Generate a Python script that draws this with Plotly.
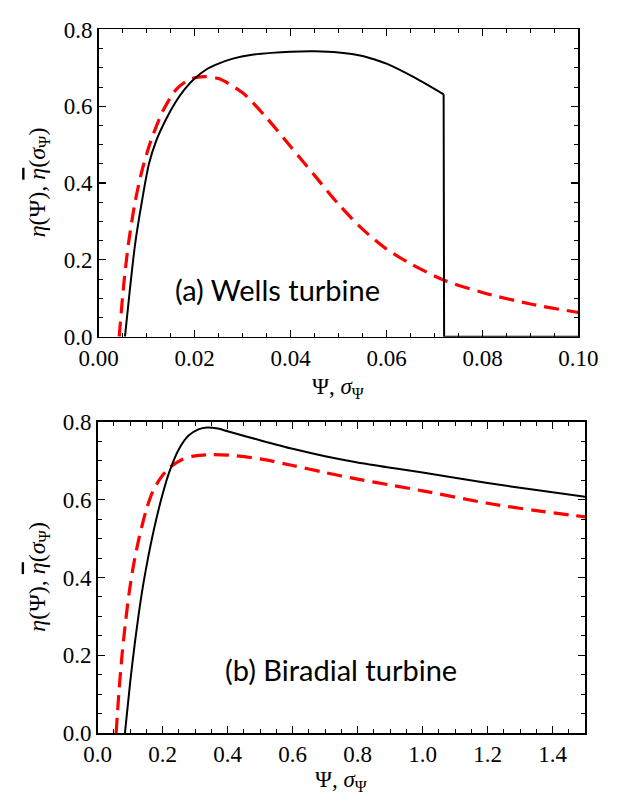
import plotly.graph_objects as go

W, H = 620, 812

# ---------------- data ----------------
# (a) Wells turbine
wells_psi = [0.0055, 0.0065, 0.0076, 0.009, 0.0105, 0.012, 0.014, 0.016, 0.018,
             0.020, 0.0226, 0.025, 0.028, 0.032, 0.036, 0.04, 0.045, 0.05,
             0.055, 0.0577, 0.06, 0.0655, 0.0719]
wells_eta = [0.0, 0.12, 0.24, 0.35, 0.45, 0.51, 0.565, 0.61, 0.645,
             0.672, 0.697, 0.711, 0.724, 0.734, 0.739, 0.742, 0.743, 0.74,
             0.731, 0.721, 0.711, 0.677, 0.631]
wells_cutoff_psi = [0.0719, 0.072, 0.1]
wells_cutoff_eta = [0.631, 0.0, 0.0]

wells_sigma = [0.0043, 0.0052, 0.0062, 0.0076, 0.009, 0.0109, 0.0135, 0.0162,
               0.019, 0.022, 0.025, 0.03, 0.035, 0.04, 0.045, 0.05, 0.055,
               0.06, 0.065, 0.072, 0.08, 0.09, 0.1]
wells_eta_bar = [0.0, 0.13, 0.24, 0.35, 0.43, 0.51, 0.59, 0.644,
                 0.67, 0.677, 0.672, 0.635, 0.57, 0.495, 0.42, 0.345, 0.28,
                 0.228, 0.19, 0.147, 0.115, 0.085, 0.063]

# (b) Biradial turbine
bi_psi = [0.084, 0.1, 0.115, 0.135, 0.155, 0.173, 0.2, 0.222, 0.25, 0.28,
          0.31, 0.337, 0.37, 0.4, 0.5, 0.6, 0.7, 0.8, 0.913, 1.0, 1.2, 1.35, 1.5]
bi_eta = [0.0, 0.13, 0.235, 0.355, 0.45, 0.523, 0.615, 0.675, 0.73, 0.765,
          0.781, 0.786, 0.783, 0.776, 0.753, 0.731, 0.712, 0.696, 0.681,
          0.67, 0.643, 0.625, 0.608]

bi_sigma = [0.057, 0.065, 0.075, 0.085, 0.098, 0.11, 0.127, 0.15, 0.17, 0.193,
            0.22, 0.259, 0.3, 0.35, 0.4, 0.5, 0.6, 0.7, 0.8, 0.913, 1.0, 1.2,
            1.35, 1.5]
bi_eta_bar = [0.0, 0.1, 0.2, 0.28, 0.367, 0.43, 0.5, 0.575, 0.622, 0.655,
              0.682, 0.703, 0.713, 0.716, 0.715, 0.705, 0.688, 0.67, 0.653,
              0.636, 0.623, 0.591, 0.572, 0.556]

top_xticks = [0.0, 0.02, 0.04, 0.06, 0.08, 0.10]
bot_xticks = [0.0, 0.2, 0.4, 0.6, 0.8, 1.0, 1.2, 1.4]
yticks = [0.0, 0.2, 0.4, 0.6, 0.8]

label_a = "(a) Wells turbine"
label_b = "(b) Biradial turbine"
xtitle = "Ψ, <i>σ</i><sub>Ψ</sub>"
ytitle = ("<i>η</i>(Ψ), <span style='text-decoration:overline'><i>η</i></span>"
          "(<i>σ</i><sub>Ψ</sub>)")

# ---------------- layout helpers ----------------
def px(p):
    return p / W

def py(p):
    return 1 - p / H

SERIF = "Liberation Serif, DejaVu Serif, serif"
BLACK = "#000000"
RED = "#ff0000"

fig = go.Figure()

solid = dict(color=BLACK, width=2)
dashed = dict(color=RED, width=3.2, dash="15px,8px")

fig.add_trace(go.Scatter(x=wells_sigma, y=wells_eta_bar, mode="lines",
                         line=dict(**dashed, shape="spline", smoothing=0.8),
                         xaxis="x", yaxis="y", showlegend=False, hoverinfo="skip"))
fig.add_trace(go.Scatter(x=wells_psi, y=wells_eta, mode="lines",
                         line=dict(**solid, shape="spline", smoothing=0.8),
                         xaxis="x", yaxis="y", showlegend=False, hoverinfo="skip"))
fig.add_trace(go.Scatter(x=wells_cutoff_psi, y=wells_cutoff_eta, mode="lines",
                         line=solid, xaxis="x", yaxis="y", showlegend=False,
                         hoverinfo="skip"))

fig.add_trace(go.Scatter(x=bi_sigma, y=bi_eta_bar, mode="lines",
                         line=dict(**dashed, shape="spline", smoothing=0.8),
                         xaxis="x2", yaxis="y2", showlegend=False, hoverinfo="skip"))
fig.add_trace(go.Scatter(x=bi_psi, y=bi_eta, mode="lines",
                         line=dict(**solid, shape="spline", smoothing=0.8),
                         xaxis="x2", yaxis="y2", showlegend=False, hoverinfo="skip"))

axis_common = dict(
    showline=True, linecolor=BLACK, linewidth=1.5, mirror="ticks",
    ticks="inside", ticklen=7, tickwidth=1.2, tickcolor=BLACK,
    showgrid=False, zeroline=False,
    tickfont=dict(family=SERIF, size=23, color=BLACK),
)

fig.update_layout(
    width=W, height=H,
    margin=dict(l=0, r=0, t=0, b=0),
    paper_bgcolor="white", plot_bgcolor="white",
    xaxis=dict(**axis_common, domain=[px(84), px(597)], anchor="y",
               range=[0, 0.1], tickvals=top_xticks, tickformat=".2f",
               minor=dict(ticks="inside", ticklen=4, dtick=0.005,
                          tickcolor=BLACK, tickwidth=1)),
    yaxis=dict(**axis_common, domain=[py(335), py(18)], anchor="x",
               range=[0, 0.8], tickvals=yticks, tickformat=".1f",
               minor=dict(ticks="inside", ticklen=4, dtick=0.05,
                          tickcolor=BLACK, tickwidth=1)),
    xaxis2=dict(**axis_common, domain=[px(83), px(604)], anchor="y2",
                range=[0, 1.5], tickvals=bot_xticks, tickformat=".1f",
                minor=dict(ticks="inside", ticklen=4, dtick=0.05,
                           tickcolor=BLACK, tickwidth=1)),
    yaxis2=dict(**axis_common, domain=[py(744), py(423)], anchor="x2",
                range=[0, 0.8], tickvals=yticks, tickformat=".1f",
                minor=dict(ticks="inside", ticklen=4, dtick=0.05,
                           tickcolor=BLACK, tickwidth=1)),
)

xt_font = dict(family=SERIF, size=23, color=BLACK)
yt_font = dict(family=SERIF, size=24, color=BLACK)
txt_font = dict(family="Lato", size=29, color=BLACK)
fig.add_annotation(text=xtitle, x=px(340), y=py(388), xref="paper", yref="paper",
                   showarrow=False, font=xt_font, xanchor="center", yanchor="middle")
fig.add_annotation(text=xtitle, x=px(343), y=py(793), xref="paper", yref="paper",
                   showarrow=False, font=xt_font, xanchor="center", yanchor="middle")
fig.add_annotation(text=ytitle, x=px(20), y=py(176), xref="paper", yref="paper",
                   showarrow=False, font=yt_font, textangle=-90,
                   xanchor="center", yanchor="middle")
fig.add_annotation(text=ytitle, x=px(20), y=py(583), xref="paper", yref="paper",
                   showarrow=False, font=yt_font, textangle=-90,
                   xanchor="center", yanchor="middle")
fig.add_annotation(text=label_a, x=px(275), y=py(286), xref="paper", yref="paper",
                   showarrow=False, font=txt_font, xanchor="center", yanchor="middle")
fig.add_annotation(text=label_b, x=px(343), y=py(678), xref="paper", yref="paper",
                   showarrow=False, font=txt_font, xanchor="center", yanchor="middle")

fig.write_html("out.html", config={"displayModeBar": False, "staticPlot": True},
               post_script="document.body.style.margin='0';document.body.style.overflow='hidden';")
